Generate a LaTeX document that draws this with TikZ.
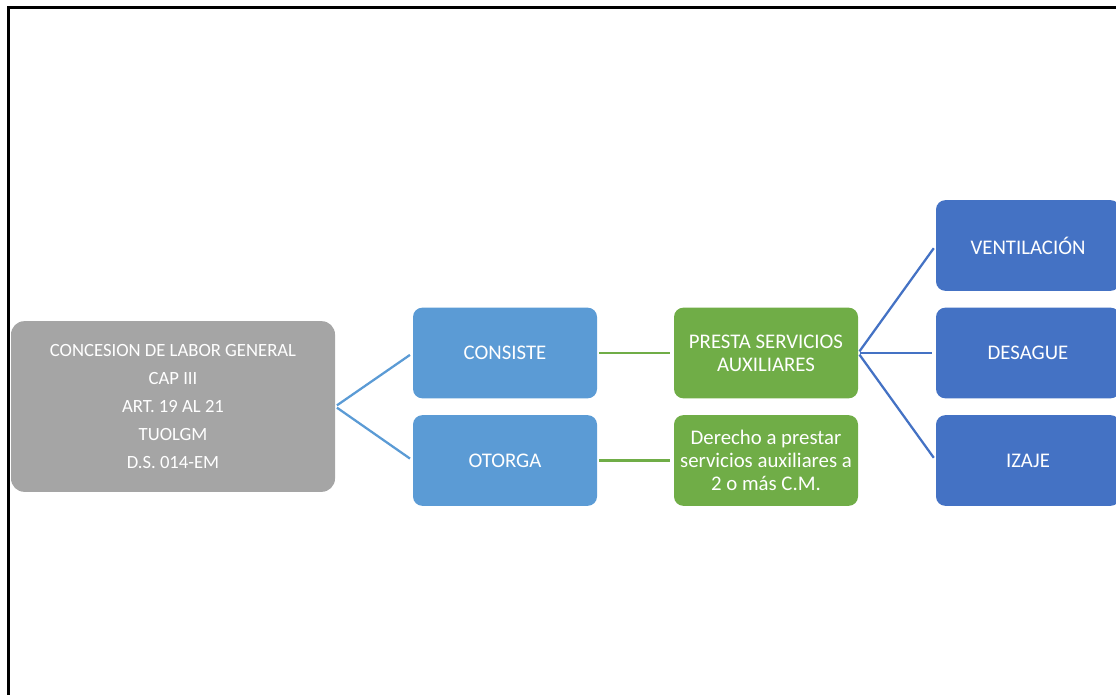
\documentclass[tikz,border=0pt]{standalone}
\usepackage{fontspec}
\setmainfont{Carlito}
\definecolor{grayfill}{HTML}{A5A5A5}
\definecolor{lightblue}{HTML}{5B9BD5}
\definecolor{darkblue}{HTML}{4472C4}
\definecolor{greenfill}{HTML}{70AD47}
\begin{document}
\begin{tikzpicture}[x=0.75pt,y=-0.75pt,
  box/.style={rounded corners=7pt, text=white, align=center, inner sep=0pt,
    minimum width=138pt, minimum height=68pt, font=\fontsize{15.6}{17}\selectfont},
  graybox/.style={box, fill=grayfill, rounded corners=10pt, minimum width=243pt, minimum height=128pt,
    font=\fontsize{14}{21}\selectfont},
  lbbox/.style={box, fill=lightblue},
  dbbox/.style={box, fill=darkblue},
  grbox/.style={box, fill=greenfill},
  link/.style={line width=1.7pt, shorten <=1.5pt, shorten >=2.5pt}]
\useasboundingbox (0,0) rectangle (1116,695);
\clip (0,0) rectangle (1116,695);
\draw[line width=1.6pt] (8.5,7.5) rectangle (1140,720);

\node[graybox] (gen) at (173,406.5) {CONCESION DE LABOR GENERAL\\CAP III\\ART. 19 AL 21\\TUOLGM\\D.S. 014-EM};
\node[lbbox] (cons) at (505,353) {CONSISTE};
\node[lbbox] (otor) at (505,460.5) {OTORGA};
\node[grbox] (presta) at (766,353) {PRESTA SERVICIOS\\AUXILIARES};
\node[grbox] (der) at (766,460.5) {Derecho a prestar\\servicios auxiliares a\\2 o más C.M.};
\node[dbbox] (vent) at (1028,245.5) {VENTILACIÓN};
\node[dbbox] (des) at (1028,353) {DESAGUE};
\node[dbbox] (iza) at (1028,460.5) {IZAJE};

\draw[link, lightblue] (gen.east) -- (cons.west);
\draw[link, lightblue] (gen.east) -- (otor.west);
\draw[link, greenfill] (cons.east) -- (presta.west);
\draw[link, greenfill] (otor.east) -- (der.west);
\draw[link, darkblue] (presta.east) -- (vent.west);
\draw[link, darkblue] (presta.east) -- (des.west);
\draw[link, darkblue] (presta.east) -- (iza.west);
\end{tikzpicture}
\end{document}
